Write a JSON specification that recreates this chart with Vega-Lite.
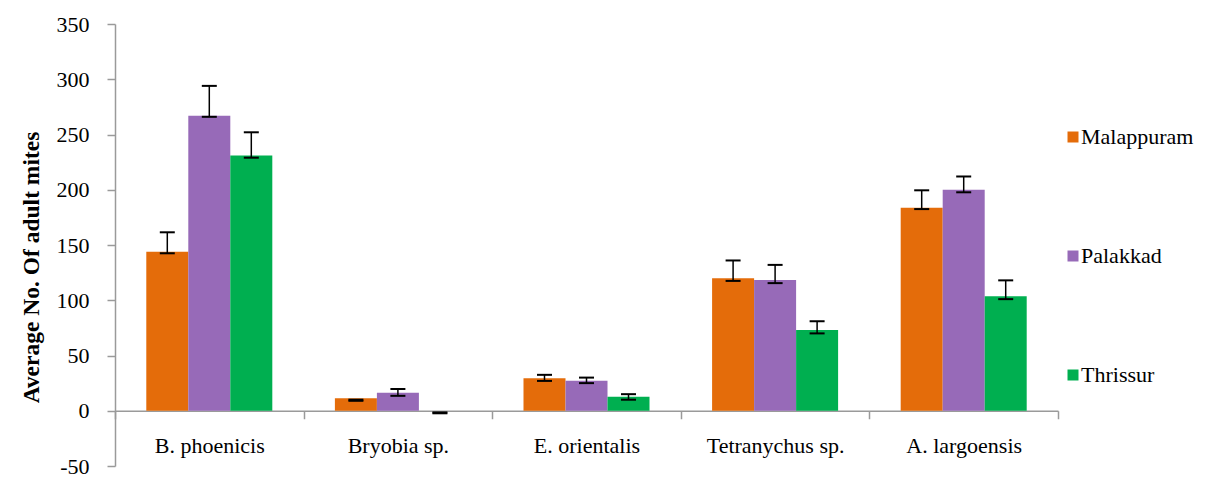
{
  "$schema": "https://vega.github.io/schema/vega-lite/v6.json",
  "width": 943,
  "height": 442,
  "autosize": {"type": "none"},
  "padding": {"left": 115, "top": 24, "right": 149, "bottom": 20},
  "background": "white",
  "config": {
    "view": {"stroke": null},
    "font": "Times New Roman, Liberation Serif, DejaVu Serif, serif",
    "axis": {"labelFont": "Times New Roman, Liberation Serif, DejaVu Serif, serif", "titleFont": "Times New Roman, Liberation Serif, DejaVu Serif, serif", "labelFontSize": 22, "labelColor": "black"},
    "legend": {"labelFont": "Times New Roman, Liberation Serif, DejaVu Serif, serif", "labelFontSize": 22, "labelColor": "black"}
  },
  "data": {
    "values": [
      {"species": "B. phoenicis", "site": "Malappuram", "value": 144, "lo": 142.5, "hi": 161.5},
      {"species": "B. phoenicis", "site": "Palakkad", "value": 267, "lo": 266, "hi": 294},
      {"species": "B. phoenicis", "site": "Thrissur", "value": 231, "lo": 229, "hi": 252},
      {"species": "Bryobia sp.", "site": "Malappuram", "value": 11.3, "lo": 9, "hi": 10},
      {"species": "Bryobia sp.", "site": "Palakkad", "value": 16.4, "lo": 13.5, "hi": 19.7},
      {"species": "Bryobia sp.", "site": "Thrissur", "value": 0, "lo": -2.3, "hi": -1.5},
      {"species": "E. orientalis", "site": "Malappuram", "value": 29.5, "lo": 27, "hi": 32.5},
      {"species": "E. orientalis", "site": "Palakkad", "value": 27.2, "lo": 25, "hi": 30},
      {"species": "E. orientalis", "site": "Thrissur", "value": 12.7, "lo": 10, "hi": 15},
      {"species": "Tetranychus sp.", "site": "Malappuram", "value": 120, "lo": 117.5, "hi": 136},
      {"species": "Tetranychus sp.", "site": "Palakkad", "value": 118.3, "lo": 115.5, "hi": 132},
      {"species": "Tetranychus sp.", "site": "Thrissur", "value": 73, "lo": 70, "hi": 81},
      {"species": "A. largoensis", "site": "Malappuram", "value": 183.7, "lo": 182.5, "hi": 199.5},
      {"species": "A. largoensis", "site": "Palakkad", "value": 200, "lo": 197.7, "hi": 212},
      {"species": "A. largoensis", "site": "Thrissur", "value": 103.6, "lo": 101, "hi": 118}
    ]
  },
  "encoding": {
    "x": {
      "field": "species",
      "type": "nominal",
      "sort": ["B. phoenicis", "Bryobia sp.", "E. orientalis", "Tetranychus sp.", "A. largoensis"],
      "scale": {"paddingInner": 0, "paddingOuter": 0},
      "axis": {
        "title": null,
        "orient": "bottom",
        "labelAngle": 0,
        "offset": -55.25,
        "tickBand": "extent",
        "tickSize": 8,
        "tickWidth": 1.5,
        "domainWidth": 1.5,
        "domainColor": "#9a9a9a",
        "tickColor": "#9a9a9a",
        "labelFontSize": 22,
        "labelColor": "black",
        "labelPadding": 17
      }
    },
    "xOffset": {
      "field": "site",
      "type": "nominal",
      "sort": ["Malappuram", "Palakkad", "Thrissur"],
      "scale": {"paddingInner": 0, "paddingOuter": 0.745}
    }
  },
  "layer": [
    {
      "mark": {"type": "bar"},
      "encoding": {
        "y": {
          "field": "value",
          "type": "quantitative",
          "scale": {"domain": [-50, 350], "nice": false, "zero": false},
          "axis": {
            "title": "Average No. Of adult mites",
            "values": [-50, 0, 50, 100, 150, 200, 250, 300, 350],
            "labelExpr": "'' + datum.value",
            "grid": false,
            "tickSize": 8,
            "tickWidth": 1.5,
            "domainWidth": 1.5,
            "domainColor": "#9a9a9a",
            "tickColor": "#9a9a9a",
            "labelFontSize": 22,
            "labelColor": "black",
            "labelPadding": 18,
            "titleFontSize": 23.5,
            "titleFontWeight": "bold",
            "titleColor": "black",
            "titleX": -72,
            "titleY": 243
          }
        },
        "color": {
          "field": "site",
          "type": "nominal",
          "scale": {"domain": ["Malappuram", "Palakkad", "Thrissur"], "range": ["#E46C0A", "#976AB8", "#00AF50"]},
          "legend": {
            "orient": "none",
            "legendX": 947,
            "legendY": 102,
            "title": null,
            "direction": "vertical",
            "padding": 0,
            "symbolType": "square",
            "symbolSize": 121,
            "symbolStrokeWidth": 0,
            "symbolOpacity": 1,
            "labelFontSize": 22,
            "labelColor": "black",
            "labelOffset": -3,
            "rowPadding": 97
          }
        }
      }
    },
    {
      "mark": {"type": "rule", "color": "black", "strokeWidth": 1.5},
      "encoding": {
        "y": {"field": "lo", "type": "quantitative", "title": "Average No. Of adult mites"},
        "y2": {"field": "hi"}
      }
    },
    {
      "mark": {"type": "tick", "color": "black", "size": 15, "thickness": 2, "opacity": 1},
      "encoding": {
        "y": {"field": "lo", "type": "quantitative", "title": "Average No. Of adult mites"}
      }
    },
    {
      "mark": {"type": "tick", "color": "black", "size": 15, "thickness": 2, "opacity": 1},
      "encoding": {
        "y": {"field": "hi", "type": "quantitative", "title": "Average No. Of adult mites"}
      }
    }
  ]
}
